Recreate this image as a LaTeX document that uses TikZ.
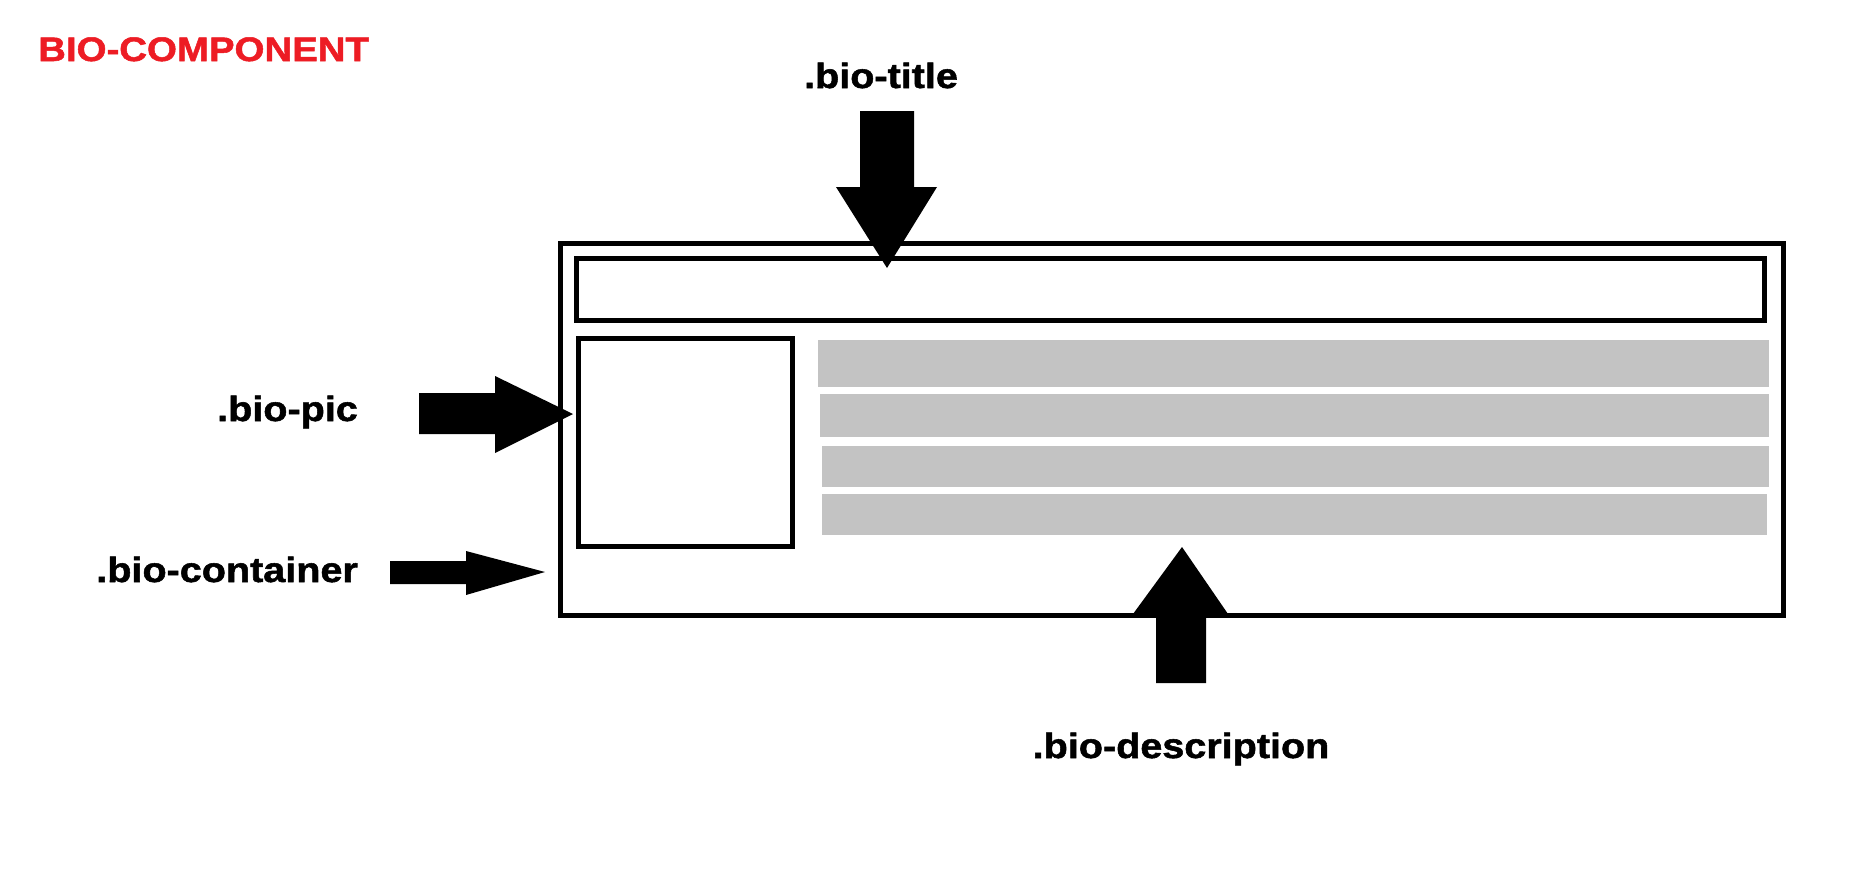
\documentclass[tikz,border=0pt]{standalone}
\usepackage{fontspec}
\setmainfont{Liberation Sans}
\newfontfamily\labelfont[FakeStretch=1.13,FakeBold=1.5]{Liberation Sans Bold}
\definecolor{biored}{HTML}{ED1C24}
\definecolor{bargrey}{HTML}{C3C3C3}
\begin{document}
\begin{tikzpicture}[x=1pt,y=-1pt,
  box/.style={draw=black,line width=5pt,inner sep=0pt,fill=none},
  bar/.style={fill=bargrey,draw=none,inner sep=0pt},
  lbl/.style={font=\labelfont\fontsize{35}{42}\selectfont,inner sep=0pt,text=black},
  blockarrow/.style={fill=black,draw=none}]
\useasboundingbox (0,0) rectangle (1854,878);
\fill[white] (0,0) rectangle (1854,878);

% title
\node[lbl,font=\labelfont\fontsize{34}{40}\selectfont,text=biored,anchor=base west] (heading) at (38,61) {BIO-COMPONENT};

% boxes
\node[box,minimum width=1223pt,minimum height=372pt] (container) at (1171.5,429) {};
\node[box,minimum width=1188pt,minimum height=62pt] (titlebox) at (1170,289) {};
\node[box,minimum width=214pt,minimum height=208pt] (picbox) at (685,442) {};

% description bars
\node[bar,minimum width=951pt,minimum height=47pt] (bar1) at (1293.5,363.5) {};
\node[bar,minimum width=949pt,minimum height=43pt] (bar2) at (1294.5,415.5) {};
\node[bar,minimum width=947pt,minimum height=41pt] (bar3) at (1295.5,466.5) {};
\node[bar,minimum width=945pt,minimum height=41pt] (bar4) at (1294.5,514.5) {};

% labels
\node[lbl,anchor=base] (ltitle) at (881,88) {.bio-title};
\node[lbl,anchor=base east] (lpic) at (358,421) {.bio-pic};
\node[lbl,anchor=base east] (lcont) at (358,582) {.bio-container};
\node[lbl,anchor=base] (ldesc) at (1181,758) {.bio-description};

% block arrows
\fill[blockarrow] (860,111) -- (914,111) -- (914,187) -- (937,187) -- (887,268) -- (836,187) -- (860,187) -- cycle;
\fill[blockarrow] (419,393) -- (495,393) -- (495,376) -- (573,414) -- (495,453) -- (495,434) -- (419,434) -- cycle;
\fill[blockarrow] (390,561) -- (466,561) -- (466,551) -- (545,572) -- (466,595) -- (466,584) -- (390,584) -- cycle;
\fill[blockarrow] (1156,683) -- (1156,614) -- (1133,614) -- (1182,547) -- (1228,614) -- (1206,614) -- (1206,683) -- cycle;
\end{tikzpicture}
\end{document}
